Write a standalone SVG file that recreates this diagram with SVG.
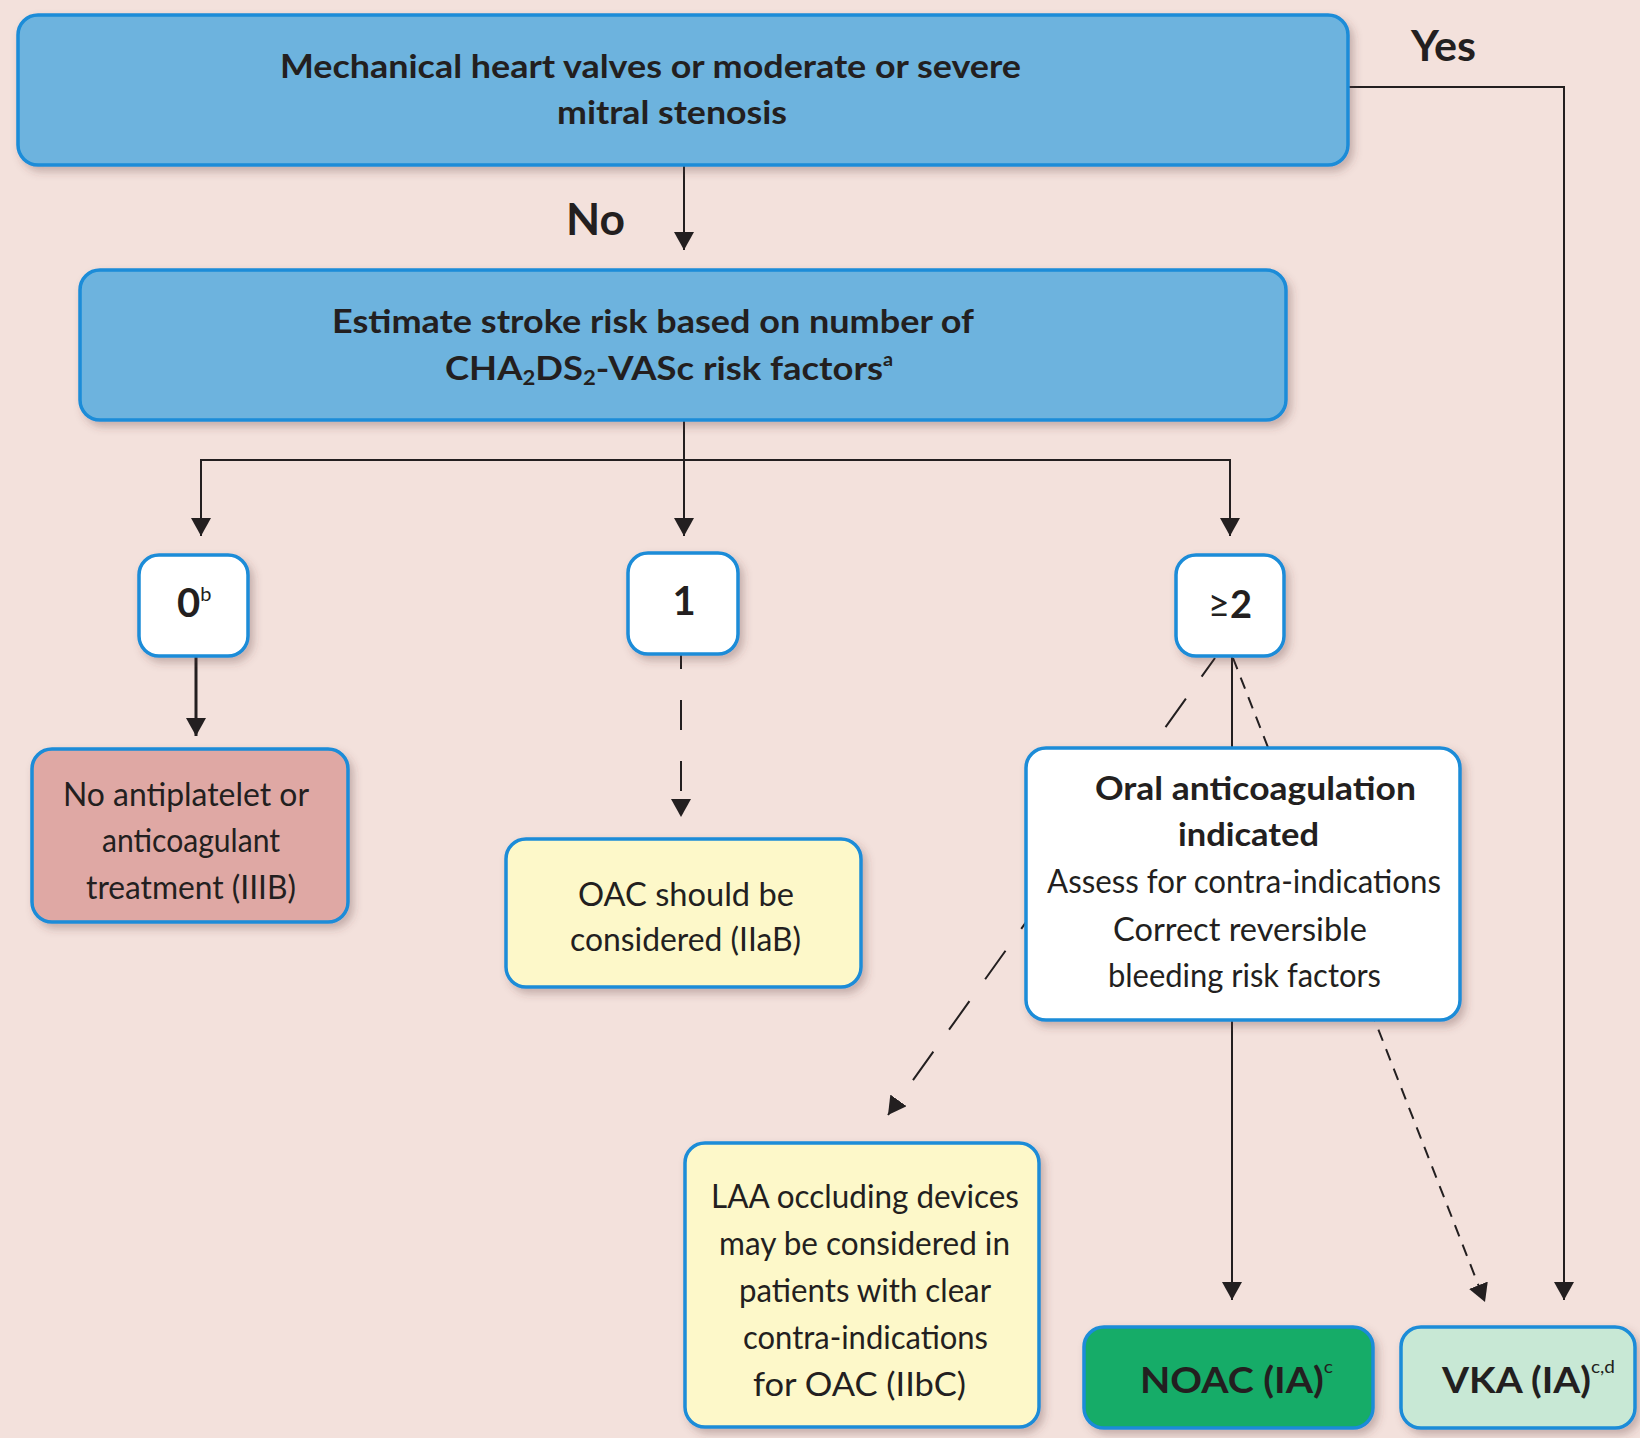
<svg xmlns="http://www.w3.org/2000/svg" width="1640" height="1438" viewBox="0 0 1640 1438">
<defs>
<style>
.t{font-family:Lato,"Liberation Sans",sans-serif;fill:#231f20}
.b{font-weight:700}
.r{font-weight:400}
.box{stroke:#1a8cd8;stroke-width:3.5;filter:url(#sh)}
.blue{fill:#6db3de}
.white{fill:#ffffff}
.red{fill:#dfa8a4}
.yel{fill:#fdf8c9}
.green{fill:#19ac68}
.mint{fill:#c8e8d5}
.c{fill:none;stroke:#231f20;stroke-width:2}
</style>
<filter id="sh" x="-10%" y="-10%" width="130%" height="140%">
<feDropShadow dx="4" dy="5" stdDeviation="4" flood-color="#5a3a3a" flood-opacity="0.3"/>
</filter>
<marker id="ah" markerWidth="18" markerHeight="20" refX="18" refY="10" orient="auto" markerUnits="userSpaceOnUse">
<path d="M0,0 L18,10 L0,20 z" fill="#231f20"/>
</marker>
</defs>
<rect x="0" y="0" width="1640" height="1438" fill="#f3e1dc"/>

<g id="connectors">
<path class="c" d="M684,165 V250" marker-end="url(#ah)"/>
<path class="c" d="M1348,87 H1564 V1300" marker-end="url(#ah)"/>
<path class="c" d="M684,420 V536" marker-end="url(#ah)"/>
<path class="c" d="M684,460 H201 V536" marker-end="url(#ah)"/>
<path class="c" d="M684,460 H1230 V536" marker-end="url(#ah)"/>
<path class="c" d="M196,656 V736" style="stroke-width:3" marker-end="url(#ah)"/>
<path class="c" d="M681,639 V817" style="stroke-dasharray:30 31" marker-end="url(#ah)"/>
<path class="c" d="M1232,656 V1300" marker-end="url(#ah)"/>
<path class="c" d="M1215,658 L888,1115" style="stroke-dasharray:35 27;stroke-dashoffset:12" marker-end="url(#ah)"/>
<path class="c" d="M1233,658 L1485,1302" style="stroke-dasharray:12 9" marker-end="url(#ah)"/>
</g>

<g id="labels">
<text class="t b" x="566" y="235" font-size="44" textLength="59" lengthAdjust="spacingAndGlyphs">No</text>
<text class="t b" x="1411" y="61" font-size="42" textLength="65" lengthAdjust="spacingAndGlyphs">Yes</text>
</g>

<g id="n-valves">
<rect class="box blue" x="18" y="15" width="1330" height="150" rx="20"/>
<text class="t b" x="280" y="78" font-size="33" textLength="741" lengthAdjust="spacingAndGlyphs">Mechanical heart valves or moderate or severe</text>
<text class="t b" x="557" y="124" font-size="33" textLength="230" lengthAdjust="spacingAndGlyphs">mitral stenosis</text>
</g>

<g id="n-estimate">
<rect class="box blue" x="80" y="270" width="1206" height="150" rx="20"/>
<text class="t b" x="332" y="333" font-size="33" textLength="642" lengthAdjust="spacingAndGlyphs">Estimate stroke risk based on number of</text>
<text class="t b" x="445" y="380" font-size="33" textLength="448" lengthAdjust="spacingAndGlyphs">CHA<tspan font-size="20" dy="5">2</tspan><tspan dy="-5">DS</tspan><tspan font-size="20" dy="5">2</tspan><tspan dy="-5">-VASc risk factors</tspan><tspan font-size="18" dy="-14">a</tspan></text>
</g>

<g id="n-zero">
<rect class="box white" x="139" y="555" width="109" height="101" rx="20"/>
<text class="t b" x="177" y="617" font-size="40">0<tspan class="r" font-size="20" dy="-16">b</tspan></text>
</g>

<g id="n-one">
<rect class="box white" x="628" y="553" width="110" height="101" rx="20"/>
<text class="t b" x="684" y="615" font-size="40" text-anchor="middle">1</text>
</g>

<g id="n-two">
<rect class="box white" x="1176" y="555" width="108" height="101" rx="20"/>
<text class="t b" x="1230" y="618" font-size="38" text-anchor="middle"><tspan class="r">≥</tspan>2</text>
</g>

<g id="n-none">
<rect class="box red" x="32" y="749" width="316" height="173" rx="20"/>
<text class="t r" x="63" y="806" font-size="32" textLength="246" lengthAdjust="spacingAndGlyphs">No antiplatelet or</text>
<text class="t r" x="102" y="852" font-size="32" textLength="178" lengthAdjust="spacingAndGlyphs">anticoagulant</text>
<text class="t r" x="86" y="899" font-size="32" textLength="210" lengthAdjust="spacingAndGlyphs">treatment (IIIB)</text>
</g>

<g id="n-oac">
<rect class="box yel" x="506" y="839" width="355" height="148" rx="20"/>
<text class="t r" x="578" y="906" font-size="32" textLength="216" lengthAdjust="spacingAndGlyphs">OAC should be</text>
<text class="t r" x="570" y="951" font-size="32" textLength="231" lengthAdjust="spacingAndGlyphs">considered (IIaB)</text>
</g>

<g id="n-oral">
<rect class="box white" x="1026" y="748" width="434" height="272" rx="20"/>
<text class="t b" x="1095" y="800" font-size="33" textLength="321" lengthAdjust="spacingAndGlyphs">Oral anticoagulation</text>
<text class="t b" x="1178" y="846" font-size="33" textLength="141" lengthAdjust="spacingAndGlyphs">indicated</text>
<text class="t r" x="1047" y="893" font-size="32" textLength="394" lengthAdjust="spacingAndGlyphs">Assess for contra-indications</text>
<text class="t r" x="1113" y="941" font-size="32" textLength="254" lengthAdjust="spacingAndGlyphs">Correct reversible</text>
<text class="t r" x="1108" y="987" font-size="32" textLength="273" lengthAdjust="spacingAndGlyphs">bleeding risk factors</text>
</g>

<g id="n-laa">
<rect class="box yel" x="685" y="1143" width="354" height="284" rx="20"/>
<text class="t r" x="711" y="1208" font-size="32" textLength="308" lengthAdjust="spacingAndGlyphs">LAA occluding devices</text>
<text class="t r" x="719" y="1255" font-size="32" textLength="291" lengthAdjust="spacingAndGlyphs">may be considered in</text>
<text class="t r" x="739" y="1302" font-size="32" textLength="252" lengthAdjust="spacingAndGlyphs">patients with clear</text>
<text class="t r" x="743" y="1349" font-size="32" textLength="245" lengthAdjust="spacingAndGlyphs">contra-indications</text>
<text class="t r" x="753" y="1396" font-size="32" textLength="213" lengthAdjust="spacingAndGlyphs">for OAC (IIbC)</text>
</g>

<g id="n-noac">
<rect class="box green" x="1084" y="1327" width="289" height="101" rx="20"/>
<text class="t b" x="1140" y="1393" font-size="37" textLength="193" lengthAdjust="spacingAndGlyphs">NOAC (IA)<tspan class="r" font-size="18" dy="-20">c</tspan></text>
</g>

<g id="n-vka">
<rect class="box mint" x="1401" y="1327" width="234" height="101" rx="20"/>
<text class="t b" x="1442" y="1393" font-size="37" textLength="173" lengthAdjust="spacingAndGlyphs">VKA (IA)<tspan class="r" font-size="18" dy="-20">c,d</tspan></text>
</g>
</svg>
